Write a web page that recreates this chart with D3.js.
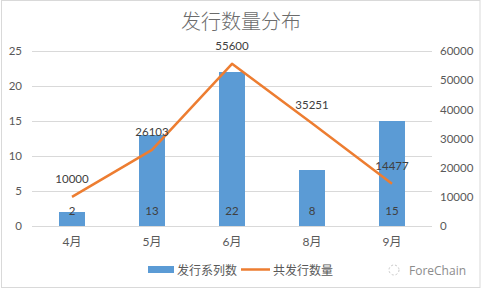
<!DOCTYPE html>
<html>
<head>
<meta charset="utf-8">
<script src="https://cdn.jsdelivr.net/npm/d3@7"></script>
<style>
  body { margin: 0; background: #fff; }
  text { font-family: Lato, "Noto Sans CJK SC", sans-serif; }
</style>
</head>
<body>
<div class="chart"></div>
<script>
// data
const months = ['4月', '5月', '6月', '8月', '9月'];
const seriesCount = [2, 13, 22, 8, 15];
const issueTotal = [10000, 26103, 55600, 35251, 14477];
const leftTicks = [0, 5, 10, 15, 20, 25];
const rightTicks = [0, 10000, 20000, 30000, 40000, 50000, 60000];

const W = 482, H = 290;
const plotL = 32, plotR = 432, plotT = 51, plotB = 226;

const svg = d3.select('.chart').append('svg')
  .attr('width', W)
  .attr('height', H);

// border
svg.append('rect')
  .attr('x', 1.5).attr('y', 0.5)
  .attr('width', W - 3.5).attr('height', H - 3)
  .attr('fill', '#fff')
  .attr('stroke', '#d9d9d9');

const x = d3.scaleBand().domain(months).range([plotL, plotR]);
const yL = d3.scaleLinear().domain([0, 25]).range([plotB, plotT]);
const yR = d3.scaleLinear().domain([0, 60000]).range([plotB, plotT]);

// title
svg.append('text')
  .text('发行数量分布')
  .attr('x', 241).attr('y', 29)
  .attr('text-anchor', 'middle')
  .attr('fill', '#6b6b6b')
  .attr('font-size', 20)
  .style('font-family', '"Noto Sans CJK SC", sans-serif')
  .style('font-weight', 300);

// grid
svg.append('g').selectAll('line').data(leftTicks).join('line')
  .attr('x1', plotL).attr('x2', plotR)
  .attr('y1', d => Math.round(yL(d)) + 0.5)
  .attr('y2', d => Math.round(yL(d)) + 0.5)
  .attr('stroke', '#d9d9d9');

// left axis
const axL = svg.append('g')
  .attr('transform', `translate(${plotL},0)`)
  .call(d3.axisLeft(yL).tickValues(leftTicks).tickSize(0).tickPadding(10));
axL.select('.domain').remove();
axL.selectAll('text').attr('fill', '#595959').attr('font-size', 11.5)
  .style('font-family', 'Lato, sans-serif');

// right axis
const axR = svg.append('g')
  .attr('transform', `translate(${plotR},0)`)
  .call(d3.axisRight(yR).tickValues(rightTicks).tickSize(0).tickPadding(8).tickFormat(d3.format('d')));
axR.select('.domain').remove();
axR.selectAll('text').attr('fill', '#595959').attr('font-size', 11.5)
  .style('font-family', 'Lato, sans-serif');

// bottom axis
const axB = svg.append('g')
  .attr('transform', `translate(0,${plotB})`)
  .call(d3.axisBottom(x).tickSize(0).tickPadding(11));
axB.select('.domain').remove();
axB.selectAll('text').attr('fill', '#595959').attr('font-size', 12)
  .style('font-family', 'Lato, "Noto Sans CJK SC", sans-serif');

// bars
const bw = 26;
svg.append('g').selectAll('rect').data(seriesCount).join('rect')
  .attr('x', (d, i) => x(months[i]) + x.bandwidth() / 2 - bw / 2)
  .attr('width', bw)
  .attr('y', d => yL(d))
  .attr('height', d => yL(0) - yL(d))
  .attr('fill', '#5b9bd5');

svg.append('g').selectAll('text').data(seriesCount).join('text')
  .text(d => d)
  .attr('x', (d, i) => x(months[i]) + x.bandwidth() / 2)
  .attr('y', plotB - 11)
  .attr('text-anchor', 'middle')
  .attr('fill', '#404040')
  .attr('font-size', 11.5);

// line
const line = d3.line()
  .x((d, i) => x(months[i]) + x.bandwidth() / 2)
  .y(d => yR(d));
svg.append('path')
  .datum(issueTotal)
  .attr('d', line)
  .attr('fill', 'none')
  .attr('stroke', '#ed7d31')
  .attr('stroke-width', 2.5)
  .attr('stroke-linejoin', 'round');

svg.append('g').selectAll('text').data(issueTotal).join('text')
  .text(d => d)
  .attr('x', (d, i) => x(months[i]) + x.bandwidth() / 2)
  .attr('y', d => yR(d) - 14)
  .attr('text-anchor', 'middle')
  .attr('fill', '#404040')
  .attr('font-size', 11.5);

// legend
const lg = svg.append('g');
lg.append('rect').attr('x', 148).attr('y', 266).attr('width', 26).attr('height', 7).attr('fill', '#5b9bd5');
lg.append('text').text('发行系列数').attr('x', 177).attr('y', 274.5)
  .attr('fill', '#595959').attr('font-size', 12)
  .style('font-family', '"Noto Sans CJK SC", sans-serif');
lg.append('line').attr('x1', 241).attr('x2', 270).attr('y1', 269.5).attr('y2', 269.5)
  .attr('stroke', '#ed7d31').attr('stroke-width', 2.5);
lg.append('text').text('共发行数量').attr('x', 273).attr('y', 274.5)
  .attr('fill', '#595959').attr('font-size', 12)
  .style('font-family', '"Noto Sans CJK SC", sans-serif');

// watermark
svg.append('text').text('ForeChain')
  .attr('x', 409).attr('y', 275)
  .attr('fill', '#8c8c8c').attr('font-size', 12)
  .style('font-family', '"Open Sans", sans-serif');
svg.append('circle').attr('cx', 394).attr('cy', 270).attr('r', 5)
  .attr('fill', 'none').attr('stroke', '#c8c8c8').attr('stroke-dasharray', '2,2');
</script>
</body>
</html>
